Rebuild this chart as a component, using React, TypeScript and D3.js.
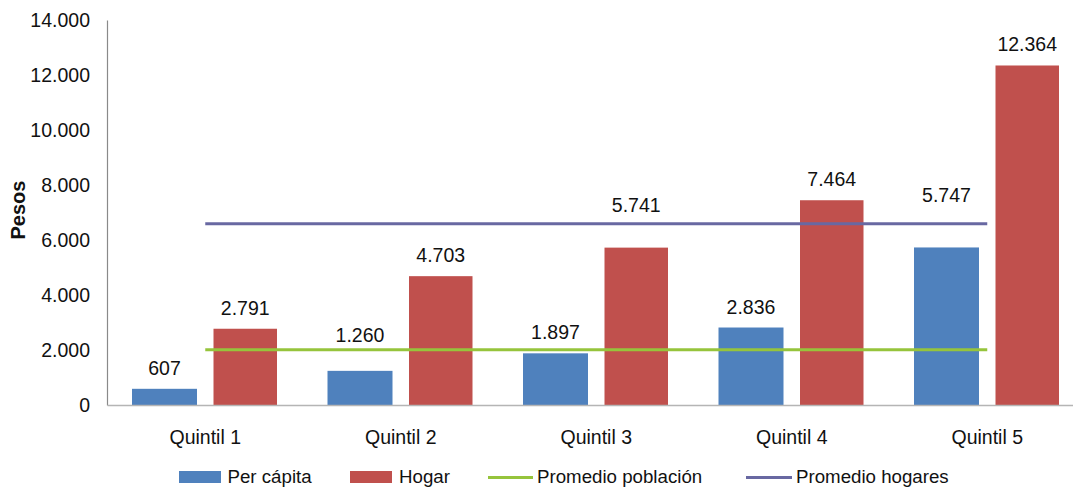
import React from "react";
import * as d3 from "d3";

const categories = ["Quintil 1", "Quintil 2", "Quintil 3", "Quintil 4", "Quintil 5"];
const perCapita = [607, 1260, 1897, 2836, 5747];
const hogar = [2791, 4703, 5741, 7464, 12364];
const promedioPoblacion = [2030, 2030, 2030, 2030, 2030];
const promedioHogares = [6613, 6613, 6613, 6613, 6613];
const yTicks = [0, 2000, 4000, 6000, 8000, 10000, 12000, 14000];

// style-only nudges (px) for labels that were moved in the original
const perCapitaLabelLift = [0, 15, 0, 0, 31];
const hogarLabelLift = [0, 0, 22, 0, 0];

const W = 1073;
const H = 487;
const FONT = "'Liberation Sans', Arial, Helvetica, sans-serif";
const BLUE = "#4F81BD";
const RED = "#C0504D";
const GREEN = "#96C43C";
const PURPLE = "#6868A2";

const fmt = (v: number) => d3.format(",")(v).replace(/,/g, ".");

export default function App() {
  const left = 107.5;
  const step = 195.5;
  const right = left + step * categories.length;
  const top = 20.5;
  const bottom = 405.5;

  const x = d3.scaleBand<string>().domain(categories).range([left, right]).paddingInner(0).paddingOuter(0);
  const y = d3.scaleLinear().domain([0, 14000]).range([bottom, top]);

  const barW = 65;
  const gap = 16.5;
  const pad = (step - 2 * barW - gap) / 2;
  const cx = (c: string) => (x(c) as number) + x.bandwidth() / 2;

  const line = d3
    .line<number>()
    .x((_, i) => cx(categories[i]))
    .y((d) => y(d));

  const fs = 19.5;

  return (
    <svg width={W} height={H} style={{ position: "absolute", left: 0, top: 0 }} fontFamily={FONT}>
      <rect width={W} height={H} fill="#fff" />
      {/* y axis */}
      <line x1={left} x2={left} y1={top} y2={bottom} stroke="#8a8a8a" strokeWidth={1.2} />
      {yTicks.map((t) => (
        <text key={t} x={90} y={y(t)} dy="0.35em" textAnchor="end" fontSize={fs} fill="#111">
          {fmt(t)}
        </text>
      ))}
      <text
        transform={`translate(25,${210}) rotate(-90)`}
        textAnchor="middle"
        fontSize={20}
        fontWeight="bold"
        fill="#111"
      >
        Pesos
      </text>
      {/* bars */}
      {categories.map((c, i) => {
        const x0 = (x(c) as number) + pad;
        const x1 = x0 + barW + gap;
        return (
          <g key={c}>
            <rect x={x0} y={y(perCapita[i])} width={barW} height={bottom - y(perCapita[i])} fill={BLUE} />
            <rect x={x1} y={y(hogar[i])} width={barW - 1.5} height={bottom - y(hogar[i])} fill={RED} />
          </g>
        );
      })}
      {/* baseline */}
      <line x1={left} x2={W} y1={bottom} y2={bottom} stroke="#b5b5b5" strokeWidth={1.5} />
      {/* lines */}
      <path d={line(promedioPoblacion) || ""} fill="none" stroke={GREEN} strokeWidth={3} />
      <path d={line(promedioHogares) || ""} fill="none" stroke={PURPLE} strokeWidth={3} />
      {/* data labels */}
      {categories.map((c, i) => {
        const x0 = (x(c) as number) + pad;
        const x1 = x0 + barW + gap;
        return (
          <g key={"l" + c} fontSize={fs} fill="#111" textAnchor="middle">
            <text x={x0 + barW / 2} y={y(perCapita[i]) - 14 - perCapitaLabelLift[i]}>
              {fmt(perCapita[i])}
            </text>
            <text x={x1 + (barW - 1.5) / 2} y={y(hogar[i]) - 14 - hogarLabelLift[i]}>
              {fmt(hogar[i])}
            </text>
          </g>
        );
      })}
      {/* x labels */}
      {categories.map((c) => (
        <text key={"x" + c} x={cx(c)} y={444} textAnchor="middle" fontSize={fs} fill="#111">
          {c}
        </text>
      ))}
      {/* legend */}
      <g fontSize={18.7} fill="#111">
        <rect x={179} y={471} width={42} height={12} fill={BLUE} />
        <text x={227.5} y={483}>Per cápita</text>
        <rect x={350} y={471} width={42} height={12} fill={RED} />
        <text x={399} y={483}>Hogar</text>
        <line x1={488} x2={533} y1={477.5} y2={477.5} stroke={GREEN} strokeWidth={3} />
        <text x={537} y={483}>Promedio población</text>
        <line x1={746} x2={792} y1={477.5} y2={477.5} stroke={PURPLE} strokeWidth={3} />
        <text x={796} y={483}>Promedio hogares</text>
      </g>
    </svg>
  );
}
